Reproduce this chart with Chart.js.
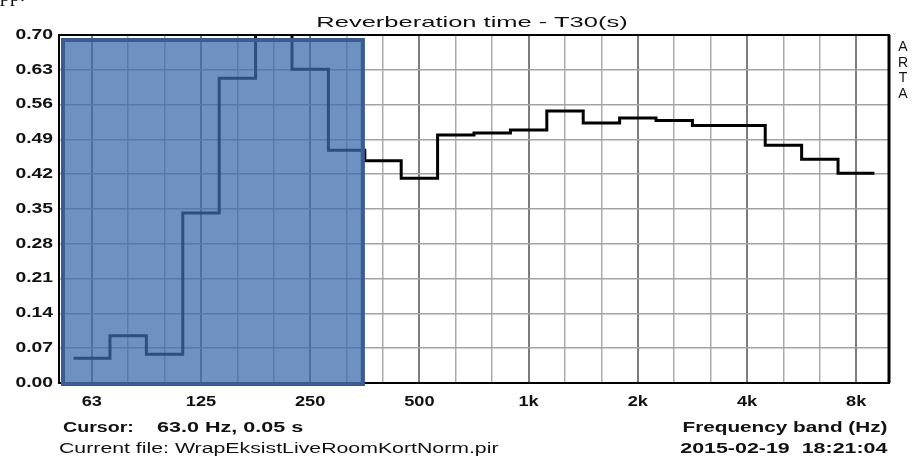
<!DOCTYPE html>
<html>
<head>
<meta charset="utf-8">
<script src="https://cdn.jsdelivr.net/npm/chart.js@4.4.1/dist/chart.umd.min.js"></script>
<style>
    html, body { margin: 0; padding: 0; background: #fff; }
    #wrap { position: relative; width: 915px; height: 457px; overflow: hidden; }
    #chart { position: absolute; left: 0; top: 0; }
    .txt { position: absolute; font-family: "Liberation Sans", Arial, sans-serif; color: #111; white-space: pre; line-height: 1; }
    .l { transform-origin: left center; }
    .r { transform-origin: right center; }
    .c { transform-origin: center center; }
</style>
</head>
<body>
<div id="wrap">
    <canvas id="chart" width="915" height="457"></canvas>
    <div class="txt" style="left:0; top:-16px; font-family:'Liberation Serif'; font-size:20px;">pp.</div>
    <div class="txt c" id="title" style="left:0; width:944px; text-align:center; top:14px; font-size:15px; transform: scaleX(1.7);">Reverberation time - T30(s)</div>
    <div class="txt" style="left:897px; top:39px; font-size:14px; line-height:15.5px; text-align:center; width:12px;">A<br>R<br>T<br>A</div>
    <div class="txt l" style="left:63px; top:420px; font-size:14px; font-weight:bold; transform: scaleX(1.4);">Cursor:</div>
    <div class="txt l" style="left:157px; top:420px; font-size:14px; font-weight:bold; transform: scaleX(1.54);">63.0 Hz, 0.05 s</div>
    <div class="txt l" style="left:59px; top:441px; font-size:14px; transform: scaleX(1.52);">Current file: WrapEksistLiveRoomKortNorm.pir</div>
    <div class="txt r" style="right:28px; top:420px; font-size:14px; font-weight:bold; transform: scaleX(1.48);">Frequency band (Hz)</div>
    <div class="txt r" style="right:28px; top:441px; font-size:14px; font-weight:bold; transform: scaleX(1.53);">2015-02-19  18:21:04</div>
</div>
<script>
// Third-octave bands, 63 Hz .. 8 kHz
const bandLabels = ['63', '80', '100', '125', '160', '200', '250', '315', '400', '500', '630', '800',
    '1k', '1.25k', '1.6k', '2k', '2.5k', '3.15k', '4k', '5k', '6.3k', '8k'];
const octaveLabels = ['63', '125', '250', '500', '1k', '2k', '4k', '8k'];
// T30 per band (s); 200 Hz goes off the top of the plot
const t30Values = [0.050, 0.095, 0.058, 0.342, 0.613, 0.760, 0.631, 0.468, 0.447, 0.412, 0.499, 0.503,
    0.509, 0.547, 0.523, 0.533, 0.528, 0.518, 0.518, 0.478, 0.450, 0.422];
const yTicks = [0.00, 0.07, 0.14, 0.21, 0.28, 0.35, 0.42, 0.49, 0.56, 0.63, 0.70];

// Cursor selection box covers bands up to 315 Hz
const cursorLastBand = '315';
const cursorTop = 0.694;

// each band is drawn as a flat step one band wide
const stepPoints = t30Values.map((v, i) => ({ x: i - 0.5, y: v }));
stepPoints.push({ x: t30Values.length - 0.5, y: t30Values[t30Values.length - 1] });

function stretchedText(ctx, text, px, py, sx) {
    ctx.save();
    ctx.translate(px, py);
    ctx.scale(sx, 1);
    ctx.fillText(text, 0, 0);
    ctx.restore();
}

const frame = {
    id: 'frame',
    afterDatasetsDraw(chart) {
        const { ctx, chartArea: a, scales: { x, y } } = chart;
        // plot border
        ctx.save();
        ctx.strokeStyle = '#000';
        ctx.lineWidth = 2;
        ctx.strokeRect(a.left, a.top, a.right - a.left, a.bottom - a.top);
        ctx.lineWidth = 3;
        ctx.beginPath();
        ctx.moveTo(a.right, a.top);
        ctx.lineTo(a.right, a.bottom);
        ctx.stroke();

        // cursor selection overlay
        const bx0 = a.left + 2;
        const bx1 = x.getPixelForValue(bandLabels.indexOf(cursorLastBand) + 0.5);
        const by0 = y.getPixelForValue(cursorTop);
        const by1 = a.bottom + 3;
        ctx.fillStyle = 'rgba(59, 107, 173, 0.74)';
        ctx.fillRect(bx0, by0, bx1 - bx0, by1 - by0);
        ctx.strokeStyle = '#3a5c91';
        ctx.lineWidth = 4;
        ctx.strokeRect(bx0 + 2, by0 + 2, bx1 - bx0 - 4, by1 - by0 - 4);
        ctx.restore();
    },
    afterDraw(chart) {
        const { ctx, chartArea: a, scales: { x, y } } = chart;
        ctx.save();
        ctx.fillStyle = '#111';
        ctx.font = 'bold 14px "Liberation Sans", Arial, sans-serif';
        ctx.textBaseline = 'middle';
        ctx.textAlign = 'right';
        yTicks.forEach(v => {
            stretchedText(ctx, v.toFixed(2), a.left - 6, y.getPixelForValue(v), 1.38);
        });
        ctx.textAlign = 'center';
        bandLabels.forEach((b, i) => {
            if (octaveLabels.includes(b)) {
                stretchedText(ctx, b, x.getPixelForValue(i), a.bottom + 19, 1.3);
            }
        });
        ctx.restore();
    }
};

const chart = new Chart(document.getElementById('chart'), {
    type: 'line',
    data: {
        datasets: [{
            data: stepPoints,
            stepped: true,
            borderColor: '#000',
            borderWidth: 3,
            pointRadius: 0,
            fill: false
        }]
    },
    options: {
        responsive: false,
        animation: false,
        events: [],
        layout: { padding: { left: 0, top: 35, right: 26, bottom: 44 } },
        plugins: { legend: { display: false }, tooltip: { enabled: false }, title: { display: false } },
        scales: {
            x: {
                type: 'linear',
                min: -0.9,
                max: 21.9,
                afterBuildTicks: scale => {
                    scale.ticks = bandLabels.map((b, i) => ({ value: i }));
                },
                afterFit: scale => { scale.height = 30; },
                ticks: { display: false },
                border: { display: false },
                grid: {
                    drawTicks: false,
                    color: ctx => octaveLabels.includes(bandLabels[ctx.tick.value]) ? '#7d7d7d' : '#ababab',
                    lineWidth: ctx => octaveLabels.includes(bandLabels[ctx.tick.value]) ? 2 : 1.5
                }
            },
            y: {
                min: 0,
                max: 0.70,
                afterBuildTicks: scale => {
                    scale.ticks = yTicks.map(v => ({ value: v }));
                },
                afterFit: scale => { scale.width = 59; },
                ticks: { display: false },
                border: { display: false },
                grid: { drawTicks: false, color: '#a3a3a3', lineWidth: 1.5 }
            }
        }
    },
    plugins: [frame]
});
</script>
</body>
</html>
